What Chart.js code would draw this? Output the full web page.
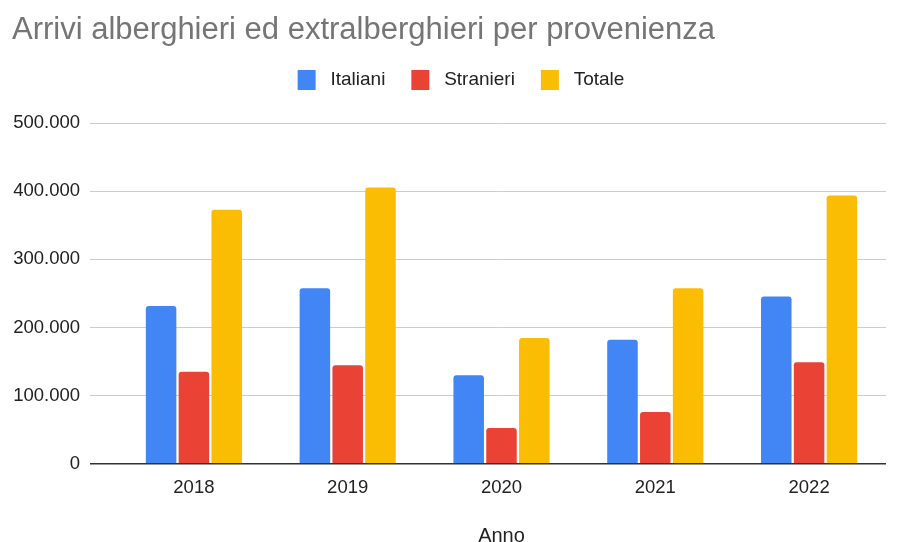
<!DOCTYPE html>
<html>
<head>
<meta charset="utf-8">
<script src="https://cdn.jsdelivr.net/npm/chart.js@4.4.1/dist/chart.umd.min.js"></script>
<style>
  html, body { margin: 0; padding: 0; background: #fff; }
  #wrap { width: 902px; height: 542px; }
</style>
</head>
<body>
<div id="wrap"><canvas id="arrivi-chart"></canvas></div>
<script>
// values
const anni = ["2018", "2019", "2020", "2021", "2022"];
const italiani = [231500, 257400, 130000, 181900, 245600];
const stranieri = [134900, 144700, 52500, 76000, 149000];
const totale = [372600, 405400, 184400, 257400, 393700];
const yTicks = [0, 100000, 200000, 300000, 400000, 500000];

// 500000 -> "500.000"
const formatIt = (v) => String(v).replace(/\B(?=(\d{3})+(?!\d))/g, ".");

Chart.defaults.font.family = "'Liberation Sans', Arial, sans-serif";
Chart.defaults.color = "#222";

// extra room under the legend, and nudge it a bit to the right
const legendGap = {
  id: "legendGap",
  beforeInit(chart) {
    const fit = chart.legend.fit;
    chart.legend.fit = function () {
      fit.bind(chart.legend)();
      this.height += 23;
    };
  },
  afterLayout(chart) {
    chart.legend.left += 12;
    chart.legend.right += 12;
  },
};

const defaultLabels = Chart.defaults.plugins.legend.labels.generateLabels;

const ctx = document.getElementById("arrivi-chart").getContext("2d");
new Chart(ctx, {
  type: "bar",
  data: {
    labels: anni,
    datasets: [
      { label: "Italiani", data: italiani, backgroundColor: "#4285f4" },
      { label: "Stranieri", data: stranieri, backgroundColor: "#ea4335" },
      { label: "Totale", data: totale, backgroundColor: "#fbbc04" },
    ],
  },
  plugins: [legendGap],
  options: {
    responsive: true,
    maintainAspectRatio: false,
    animation: false,
    layout: { padding: { left: 12, right: 16, top: 0, bottom: -4 } },
    datasets: {
      bar: {
        categoryPercentage: 0.64,
        barPercentage: 0.93,
        borderRadius: 3,
      },
    },
    plugins: {
      title: {
        display: true,
        text: "Arrivi alberghieri ed extralberghieri per provenienza",
        align: "start",
        color: "#757575",
        font: { size: 31, weight: "normal", lineHeight: 1 },
        padding: { top: 15, bottom: -2 },
      },
      legend: {
        position: "top",
        labels: {
          boxWidth: 18,
          boxHeight: 20,
          padding: 26,
          color: "#222",
          font: { size: 19 },
          // a bit more space between swatch and text
          generateLabels: (chart) =>
            defaultLabels(chart).map((l) => ({ ...l, text: " " + l.text })),
        },
      },
      tooltip: { enabled: false },
    },
    scales: {
      x: {
        grid: { display: false, drawTicks: false },
        border: { display: false },
        ticks: { font: { size: 18.5 }, color: "#222", padding: 13 },
        title: {
          display: true,
          text: "Anno",
          font: { size: 20, lineHeight: 1 },
          color: "#222",
          padding: { top: 14, bottom: 0 },
        },
      },
      y: {
        min: 0,
        max: 500000,
        afterBuildTicks: (scale) => {
          scale.ticks = yTicks.map((v) => ({ value: v }));
        },
        afterFit: (scale) => {
          scale.width = 105;
        },
        border: { display: false },
        grid: {
          color: (c) => (c.tick && c.tick.value === 0 ? "#333" : "#ccc"),
          lineWidth: (c) => (c.tick && c.tick.value === 0 ? 1.5 : 1),
          tickLength: 27,
        },
        ticks: {
          font: { size: 18.5 },
          color: "#222",
          padding: 10,
          callback: (v) => formatIt(v),
        },
      },
    },
  },
});
</script>
</body>
</html>
